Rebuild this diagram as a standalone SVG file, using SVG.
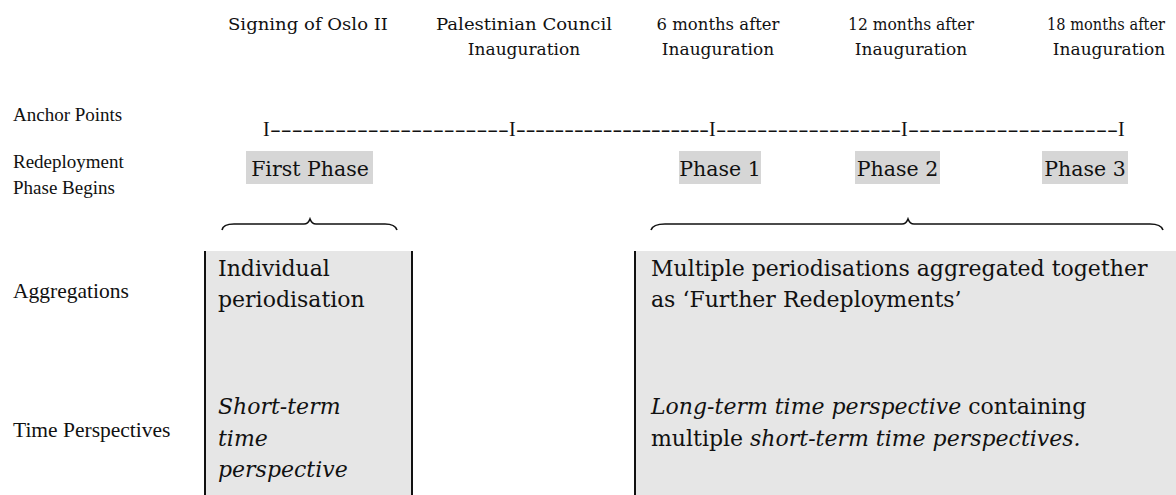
<svg xmlns="http://www.w3.org/2000/svg" width="1176" height="495" viewBox="0 0 1176 495">
<style>
  .lbl { font-family: "Liberation Serif", "DejaVu Serif", serif; font-size: 19px; fill: #111; }
  .lbl2 { font-family: "Liberation Serif", "DejaVu Serif", serif; font-size: 21.5px; fill: #111; }
  .top { font-family: "DejaVu Serif", "Liberation Serif", serif; font-size: 17px; fill: #111; text-anchor: middle; }
  .num { font-size: 16px; }
  .tl { font-family: "Liberation Serif", "DejaVu Serif", serif; font-size: 20px; fill: #111; }
  .ph { font-family: "DejaVu Serif", "Liberation Serif", serif; font-size: 20.5px; fill: #111; text-anchor: middle; }
  .hl { fill: #d6d6d6; }
  .box { fill: #e6e6e6; }
  .edge { stroke: #111; stroke-width: 2; fill: none; }
  .brace { stroke: #111; stroke-width: 1.6; fill: none; }
  .bt { font-family: "DejaVu Serif", "Liberation Serif", serif; font-size: 22px; fill: #111; }
  .it { font-style: italic; }
</style>

<g id="row-labels">
  <text class="lbl" x="13" y="121">Anchor Points</text>
  <text class="lbl" x="13" y="168">Redeployment</text>
  <text class="lbl" x="13" y="194">Phase Begins</text>
  <text class="lbl2" x="13" y="298">Aggregations</text>
  <text class="lbl2" x="13" y="437">Time Perspectives</text>
</g>

<g id="anchor-oslo"><text class="top" x="308" y="30" textLength="160" lengthAdjust="spacingAndGlyphs">Signing of Oslo II</text></g>
<g id="anchor-council"><text class="top" x="524" y="30" textLength="176" lengthAdjust="spacingAndGlyphs">Palestinian Council</text><text class="top" x="524" y="55">Inauguration</text></g>
<g id="anchor-6"><text class="top num" x="718" y="30" textLength="123" lengthAdjust="spacingAndGlyphs">6 months after</text><text class="top" x="718" y="55">Inauguration</text></g>
<g id="anchor-12"><text class="top num" x="911" y="30" textLength="126" lengthAdjust="spacingAndGlyphs">12 months after</text><text class="top" x="911" y="55">Inauguration</text></g>
<g id="anchor-18"><text class="top num" x="1106" y="30" textLength="118" lengthAdjust="spacingAndGlyphs">18 months after</text><text class="top" x="1109" y="55">Inauguration</text></g>

<g id="timeline">
  <text class="tl" x="263" y="136">I</text>
  <text class="tl" x="270" y="136" textLength="239" lengthAdjust="spacingAndGlyphs">----------------------</text>
  <text class="tl" x="509" y="136">I</text>
  <text class="tl" x="516" y="136" textLength="193" lengthAdjust="spacingAndGlyphs">--------------------</text>
  <text class="tl" x="709" y="136">I</text>
  <text class="tl" x="716" y="136" textLength="185" lengthAdjust="spacingAndGlyphs">------------------</text>
  <text class="tl" x="901" y="136">I</text>
  <text class="tl" x="908" y="136" textLength="210" lengthAdjust="spacingAndGlyphs">-------------------</text>
  <text class="tl" x="1118" y="136">I</text>
</g>

<g id="phase-first"><rect class="hl" x="246" y="151" width="127" height="33"/><text class="ph" x="310" y="176">First Phase</text></g>
<g id="phase-1"><rect class="hl" x="679" y="151" width="82" height="33"/><text class="ph" x="720" y="176">Phase 1</text></g>
<g id="phase-2"><rect class="hl" x="855" y="151" width="85" height="33"/><text class="ph" x="897.5" y="176">Phase 2</text></g>
<g id="phase-3"><rect class="hl" x="1042" y="151" width="86" height="33"/><text class="ph" x="1085" y="176">Phase 3</text></g>

<g id="connectors">
  <path class="brace" d="M222,230 Q223,224 234,224 L304,224 Q308,224 310,219 Q312,224 316,224 L385,224 Q395,224 397,230"/>
  <path class="brace" d="M651,230 Q653,224 665,224 L902,224 Q906,224 908,219 Q910,224 914,224 L1150,224 Q1161,224 1163,230"/>
</g>

<g id="box-individual">
  <rect class="box" x="205" y="251" width="207" height="244"/>
  <line class="edge" x1="205" y1="251" x2="205" y2="495"/>
  <line class="edge" x1="412" y1="251" x2="412" y2="495"/>
  <text class="bt" x="218" y="276">Individual</text>
  <text class="bt" x="218" y="307">periodisation</text>
  <text class="bt it" x="218" y="414">Short-term</text>
  <text class="bt it" x="218" y="446">time</text>
  <text class="bt it" x="218" y="477">perspective</text>
</g>

<g id="box-further">
  <rect class="box" x="635" y="251" width="541" height="244"/>
  <line class="edge" x1="635" y1="251" x2="635" y2="495"/>
  <text class="bt" x="651" y="276">Multiple periodisations aggregated together</text>
  <text class="bt" x="651" y="307">as ‘Further Redeployments’</text>
  <text class="bt" x="651" y="414"><tspan class="it">Long-term time perspective</tspan> containing</text>
  <text class="bt" x="651" y="446">multiple <tspan class="it">short-term time perspectives.</tspan></text>
</g>
</svg>
